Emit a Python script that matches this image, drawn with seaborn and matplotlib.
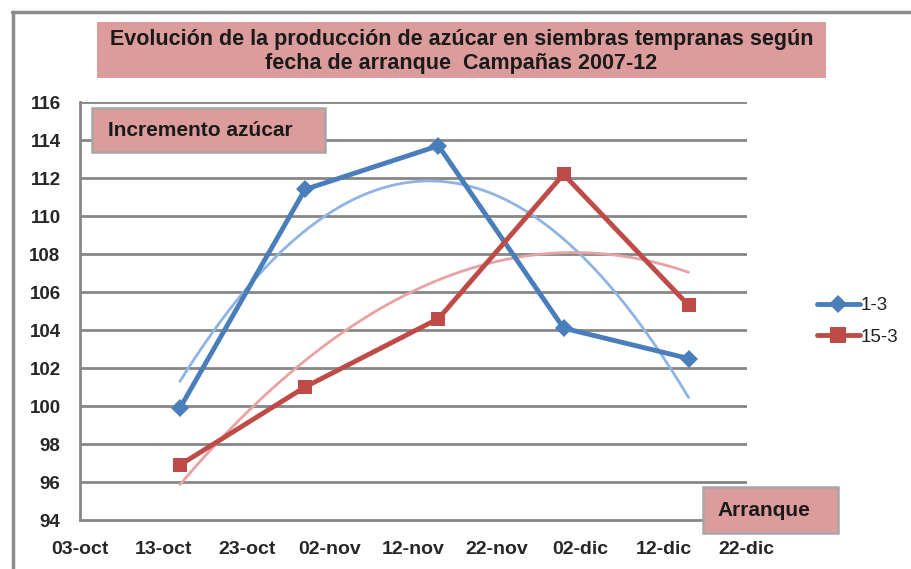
import matplotlib
matplotlib.use("Agg")
import matplotlib.pyplot as plt
import matplotlib.dates as mdates
from matplotlib.lines import Line2D
from matplotlib.patches import Rectangle
import numpy as np
import pandas as pd
import seaborn as sns

# data
fechas = ['2011-10-15', '2011-10-30', '2011-11-15', '2011-11-30', '2011-12-15']
serie_1_3 = [99.9, 111.4, 113.7, 104.1, 102.5]
serie_15_3 = [96.9, 101.0, 104.6, 112.2, 105.3]
series = ['1-3', '15-3']
tick_fechas = ['2011-10-03', '2011-10-13', '2011-10-23', '2011-11-02', '2011-11-12',
               '2011-11-22', '2011-12-02', '2011-12-12', '2011-12-22']
tick_labels = ['03-oct', '13-oct', '23-oct', '02-nov', '12-nov',
               '22-nov', '02-dic', '12-dic', '22-dic']
y_ticks = list(range(94, 117, 2))

sns.set_style('white')
plt.rcParams['font.family'] = ['Liberation Sans', 'DejaVu Sans']

x = mdates.date2num(pd.to_datetime(fechas))
df = pd.DataFrame({'x': np.concatenate([x, x]),
                   'y': serie_1_3 + serie_15_3,
                   'serie': [series[0]] * len(x) + [series[1]] * len(x)})

blue, red = '#4a7ebb', '#be4b48'
blue_t, red_t = '#8fb4e3', '#e8a2a2'
pink = '#dc9c9c'

fig = plt.figure(figsize=(9.12, 5.69), dpi=100)
ax = fig.add_axes([0.0877, 0.0861, 0.7313, 0.7346])

for y in y_ticks[1:]:
    ax.axhline(y, color='#868686', lw=2, zorder=0)

# polynomial (order 2) trend lines
sub = df[df.serie == '1-3']
sns.regplot(x=sub.x, y=sub.y, order=2, ci=None, scatter=False, ax=ax,
            line_kws=dict(color=blue_t, lw=2, zorder=2))
sub = df[df.serie == '15-3']
sns.regplot(x=sub.x, y=sub.y, order=2, ci=None, scatter=False, ax=ax,
            line_kws=dict(color=red_t, lw=2, zorder=2))

sns.lineplot(data=df, x='x', y='y', hue='serie', style='serie',
             palette={'1-3': blue, '15-3': red}, markers={'1-3': 'D', '15-3': 's'},
             dashes=False, lw=3.5, markersize=9.5, markeredgewidth=0, ax=ax,
             zorder=3, legend=False)

ax.set_xlim(mdates.date2num(pd.Timestamp(tick_fechas[0])),
            mdates.date2num(pd.Timestamp(tick_fechas[-1])))
ax.set_ylim(94, 116)
ax.set_xticks(mdates.date2num(pd.to_datetime(tick_fechas)))
ax.set_xticklabels(tick_labels, fontsize=14, fontweight='bold')
ax.set_yticks(y_ticks)
ax.set_yticklabels([str(v) for v in y_ticks], fontsize=13.5, fontweight='bold')
ax.tick_params(axis='both', length=5, width=1.5, color='#868686', direction='out')
ax.tick_params(axis='y', pad=9)
ax.tick_params(axis='x', pad=10)
ax.set_xlabel('')
ax.set_ylabel('')
for side in ['top', 'right']:
    ax.spines[side].set_visible(False)
for side in ['left', 'bottom']:
    ax.spines[side].set_color('#868686')
    ax.spines[side].set_linewidth(2)

handles = [Line2D([], [], color=blue, lw=3.5, marker='D', markersize=9.5, markeredgewidth=0),
           Line2D([], [], color=red, lw=3.5, marker='s', markersize=11, markeredgewidth=0)]
fig.legend(handles, series, loc='center left', bbox_to_anchor=(0.877, 0.435),
           frameon=False, fontsize=13.5, handlelength=2.3, handletextpad=0.05,
           labelspacing=0.75, labelcolor='#222222')

# title and annotation boxes
fig.add_artist(Rectangle((0.106, 0.863), 0.800, 0.098, transform=fig.transFigure,
                         fc=pink, ec='none'))
fig.text(0.506, 0.910, 'Evolución de la producción de azúcar en siembras tempranas según\n'
         'fecha de arranque  Campañas 2007-12',
         ha='center', va='center', fontsize=15.5, fontweight='bold', linespacing=1.2,
         color='#1a1a1a')
fig.add_artist(Rectangle((0.101, 0.733), 0.255, 0.077, transform=fig.transFigure,
                         fc=pink, ec='#a6a6a6', lw=1.8))
fig.text(0.118, 0.770, 'Incremento azúcar', ha='left', va='center', fontsize=15,
         fontweight='bold', color='#1a1a1a')
fig.add_artist(Rectangle((0.771, 0.063), 0.148, 0.081, transform=fig.transFigure,
                         fc=pink, ec='#a6a6a6', lw=1.8))
fig.text(0.787, 0.103, 'Arranque', ha='left', va='center', fontsize=15,
         fontweight='bold', color='#1a1a1a')

# outer chart frame
fig.add_artist(Line2D([0.013, 1.0], [0.979, 0.979], color='#8c8c8c', lw=2.5))
fig.add_artist(Line2D([0.014, 0.014], [0.0, 0.979], color='#8c8c8c', lw=2.5))

fig.savefig('out.png', dpi=100)
